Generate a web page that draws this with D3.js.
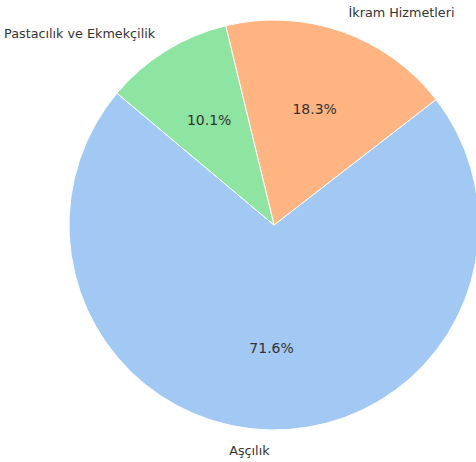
<!DOCTYPE html>
<html><head><meta charset="utf-8">
<script src="https://cdn.jsdelivr.net/npm/d3@7"></script>
<style>body{margin:0;background:#fff}svg{display:block}</style>
</head><body>
<script>
const categories = ["Aşçılık", "İkram Hizmetleri", "Pastacılık ve Ekmekçilik"];
const values = [71.6, 18.3, 10.1];
const colors = ["#a1c9f4", "#ffb482", "#8de5a1"];
const startAngleDeg = 140;

const W = 476, H = 462, cx = 274, cy = 225, R = 205;
const svg = d3.select("body").append("svg").attr("width", W).attr("height", H);
const g = svg.append("g").attr("transform", `translate(${cx},${cy})`);

const a0 = (90 - startAngleDeg) * Math.PI / 180;
const pie = d3.pie().sort(null).value(d => d).startAngle(a0).endAngle(a0 - 2 * Math.PI);
const arcs = pie(values);
const arc = d3.arc().innerRadius(0).outerRadius(R);
const color = d3.scaleOrdinal().domain(categories).range(colors);

g.selectAll("path").data(arcs).join("path")
  .attr("d", arc)
  .attr("fill", (d, i) => color(categories[i]))
  .attr("stroke", "#fff").attr("stroke-width", 1);

const font = "DejaVu Sans, sans-serif";
arcs.forEach((d, i) => {
  const mid = (d.startAngle + d.endAngle) / 2;
  const sx = Math.sin(mid), sy = -Math.cos(mid);
  g.append("text")
    .attr("x", 1.1 * R * sx).attr("y", 1.1 * R * sy)
    .attr("dy", "0.35em")
    .attr("text-anchor", sx > 0 ? "start" : "end")
    .attr("font-family", font).attr("font-size", 12.75)
    .attr("fill", "#333")
    .text(categories[i]);
  g.append("text")
    .attr("x", 0.6 * R * sx).attr("y", 0.6 * R * sy)
    .attr("dy", "0.35em")
    .attr("text-anchor", "middle")
    .attr("font-family", font).attr("font-size", 14)
    .attr("fill", "#333")
    .text(values[i].toFixed(1) + "%");
});
</script>
</body></html>
